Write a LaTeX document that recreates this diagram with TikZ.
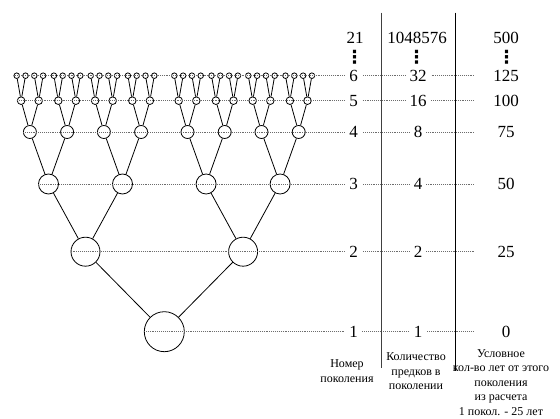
\documentclass[tikz,border=0pt]{standalone}
\usepackage{fontspec}
\setmainfont{Liberation Serif}
\newfontfamily\dvsans{DejaVu Sans}
\usetikzlibrary{calc}
\begin{document}
\begin{tikzpicture}[x=1pt,y=-1pt,
  nd/.style={circle,draw,inner sep=0pt,line width=0.8pt},
  edge/.style={line width=0.8pt},
  dotln/.style={line width=0.6pt,gray!85!black,dash pattern=on 0.6pt off 1.3pt},
  num/.style={font=\fontsize{17}{20}\selectfont,inner xsep=4pt,inner ysep=0pt},
  numw/.style={num,fill=white},
  vd/.style={font=\dvsans\bfseries\fontsize{18}{20}\selectfont,inner sep=0pt},
  captxt/.style={font=\fontsize{12}{14.6}\selectfont,align=center,inner sep=0pt}
]
\useasboundingbox (0,0) rectangle (560,419);
% tree
\node[nd,minimum size=40pt] (L1-1) at (164.3,331.7) {};
\foreach \k/\pk/\dd/\dy/\n/\sz in {2/1/78.8/-80/2/29, 3/2/37/-67.7/4/20, 4/3/18.6/-52/8/13, 5/4/8.8/-31.3/16/7.6, 6/5/4.4/-25/32/5.6}{
  \foreach \i in {1,...,\n}{
    \pgfmathtruncatemacro\p{(\i+1)/2}
    \pgfmathsetmacro\s{ifthenelse(mod(\i,2)==1,-1,1)}
    \node[nd,minimum size=\sz pt] (L\k-\i) at ($(L\pk-\p.center)+(\s*\dd,\dy)$) {};
    \draw[edge] (L\k-\i) -- (L\pk-\p);
  }
}
% rows
\foreach \k/\y/\cnt/\yrs in {1/331.7/1/0, 2/251.7/2/25, 3/184/4/50, 4/132/8/75, 5/100.7/16/100, 6/75.7/32/125}{
  \coordinate (E\k) at (474,\y);
  \draw[dotln] (L\k-1.west) -- (E\k);
  \node[numw] (A\k) at (353.5,\y) {\k};
  \node[numw] (B\k) at (418,\y) {\cnt};
  \node[num] (C\k) at (506,\y) {\yrs};
}
% headers
\node[num] (H1) at (355,37.7) {21};
\node[num] (H2) at (417,37.7) {1048576};
\node[num] (H3) at (506,37.7) {500};
\node[vd] (V1) at (354.5,57) {⋮};
\node[vd] (V2) at (416.7,57) {⋮};
\node[vd] (V3) at (506.5,57) {⋮};
% column rules
\coordinate (T1) at (381,12.7);
\coordinate (R1) at (381,368);
\coordinate (T2) at (455.5,12.7);
\coordinate (R2) at (455.5,371);
\draw[line width=0.8pt,black!75] (T1) -- (R1);
\draw[line width=1.3pt] (T2) -- (R2);
% captions
\node[captxt] (D1) at (347,371) {Номер\\поколения};
\node[captxt] (D2) at (416,371.5) {Количество\\предков в\\поколении};
\node[captxt] (D3) at (501,382.5) {Условное\\кол-во лет от этого\\поколения\\из расчета\\1 покол. - 25 лет};
\end{tikzpicture}
\end{document}
